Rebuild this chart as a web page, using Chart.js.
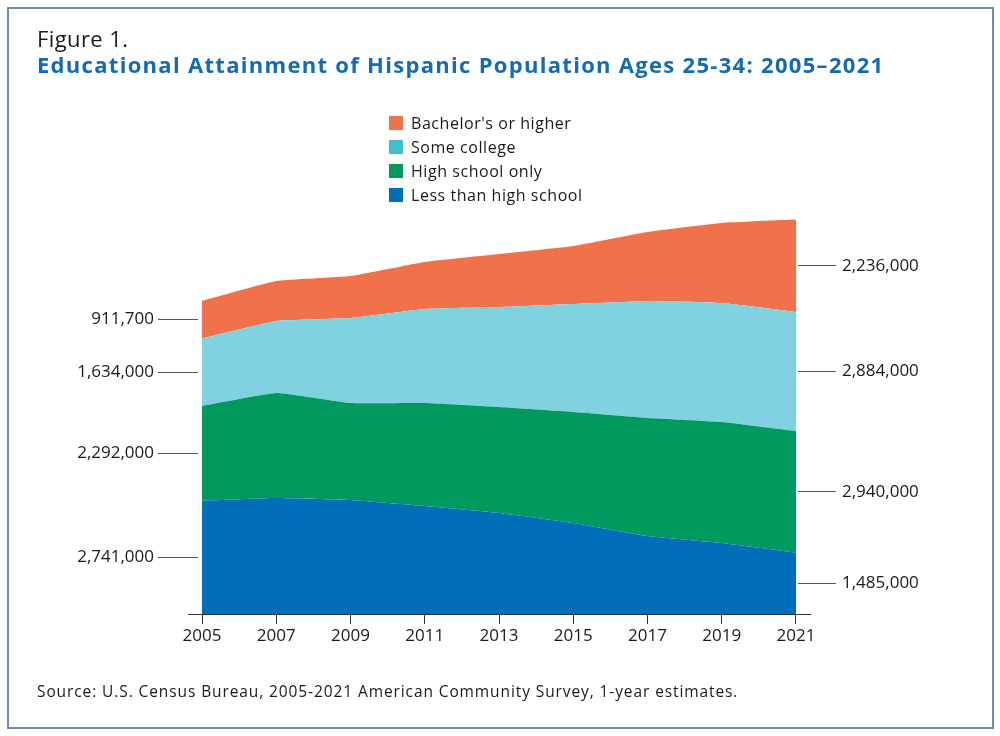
<!DOCTYPE html>
<html>
<head>
<meta charset="UTF-8">
<title>Educational Attainment of Hispanic Population Ages 25-34</title>
<script src="https://cdn.jsdelivr.net/npm/chart.js"></script>
<style>
  html, body { margin: 0; padding: 0; background: #fff; }
  #page { position: relative; width: 1000px; height: 736px; overflow: hidden; font-family: "Open Sans", sans-serif; color: #1a1a1a; }
  #frame { position: absolute; left: 7px; top: 7px; width: 983px; height: 718px; border: 2px solid #6a8cb3; }
  #chart { position: absolute; left: 0; top: 0; }
  .txt { position: absolute; white-space: nowrap; line-height: 1; }
  #fig { left: 37px; top: 27px; font-size: 22px; letter-spacing: 0.4px; }
  #title { left: 37px; top: 53px; font-size: 22px; font-weight: 700; color: #136bb5; letter-spacing: 1.3px; }
  #source { left: 37px; top: 684px; font-size: 15.5px; letter-spacing: 0.9px; }
  #legend { position: absolute; left: 389px; top: 111px; }
  .row { display: flex; align-items: center; height: 24px; font-size: 16px; letter-spacing: 0.55px; }
  .sw { width: 14px; height: 14px; margin-right: 8px; }
</style>
</head>
<body>
<div id="page">
  <div id="frame"></div>
  <canvas id="chart" width="1000" height="736"></canvas>
  <div class="txt" id="fig">Figure 1.</div>
  <div class="txt" id="title">Educational Attainment of Hispanic Population Ages 25-34: 2005–2021</div>
  <div id="legend"></div>
  <div class="txt" id="source">Source: U.S. Census Bureau, 2005-2021 American Community Survey, 1-year estimates.</div>
</div>

<script>
// years shown on the x axis
const years = [2005, 2007, 2009, 2011, 2013, 2015, 2017, 2019, 2021];

// series, bottom to top (first and last values are labelled in the figure)
const lessThanHS = [2741000, 2807000, 2759000, 2614000, 2444000, 2202000, 1888000, 1718000, 1485000];
const highSchool = [2292000, 2541000, 2347000, 2493000, 2565000, 2686000, 2856000, 2928000, 2940000];
const someCollege = [1634000, 1742000, 2057000, 2275000, 2420000, 2614000, 2831000, 2880000, 2884000];
const bachelors = [911700, 968000, 1016000, 1137000, 1283000, 1404000, 1670000, 1936000, 2236000];

const seriesNames = ["Less than high school", "High school only", "Some college", "Bachelor's or higher"];
const seriesValues = [lessThanHS, highSchool, someCollege, bachelors];
const areaColors = ["#006eb9", "#009a5f", "#80d2e0", "#f1724a"];
const swatchColors = ["#006eb9", "#009a5f", "#3dbfd6", "#f1724a"];

// legend (top entry = top band)
const legendEl = document.getElementById("legend");
for (let i = seriesNames.length - 1; i >= 0; i--) {
    legendEl.insertAdjacentHTML("beforeend",
        `<div class="row"><span class="sw" style="background:${swatchColors[i]}"></span>${seriesNames[i]}</div>`);
}

// side labels sit at the middle of each band, first year on the left, last year on the right
function bandMidpoints(idx) {
    let base = 0;
    return seriesValues.map(s => {
        const mid = base + s[idx] / 2;
        base += s[idx];
        return mid;
    });
}
const leftTicks = bandMidpoints(0);
const rightTicks = bandMidpoints(years.length - 1);
const leftLabels = seriesValues.map(s => s[0].toLocaleString("en-US"));
const rightLabels = seriesValues.map(s => s[s.length - 1].toLocaleString("en-US"));

const tickFont = { family: "Open Sans", size: 17 };

// longer x axis line than the plot area, like the original
const axisLine = {
    id: "axisLine",
    afterDraw(chart) {
        const { ctx, chartArea } = chart;
        ctx.save();
        ctx.strokeStyle = "#333";
        ctx.lineWidth = 1.2;
        ctx.beginPath();
        ctx.moveTo(chartArea.left - 10, chartArea.bottom + 0.5);
        ctx.lineTo(chartArea.right + 13, chartArea.bottom + 0.5);
        ctx.stroke();
        ctx.restore();
    }
};

new Chart(document.getElementById("chart"), {
    type: "line",
    data: {
        datasets: seriesValues.map((s, i) => ({
            label: seriesNames[i],
            data: s.map((v, j) => ({ x: years[j], y: v })),
            backgroundColor: areaColors[i],
            borderWidth: 0,
            pointRadius: 0,
            tension: 0.12,
            fill: i === 0 ? "origin" : "-1",
            yAxisID: "y"
        }))
    },
    options: {
        responsive: false,
        animation: false,
        events: [],
        layout: { padding: { left: 0, right: 0, top: 209, bottom: 82 } },
        plugins: { legend: { display: false }, tooltip: { enabled: false } },
        scales: {
            x: {
                type: "linear",
                min: 2004.892,
                max: 2021.054,
                afterBuildTicks: axis => { axis.ticks = years.map(v => ({ value: v })); },
                afterFit: axis => { axis.height = 40; },
                border: { display: false },
                grid: { drawOnChartArea: false, drawTicks: true, tickLength: 10, color: "#333" },
                ticks: { autoSkip: false, maxRotation: 0, padding: 2, color: "#1a1a1a", font: tickFont,
                         callback: v => String(v) }
            },
            y: {
                position: "left",
                stacked: true,
                min: 0,
                max: 9800000,
                afterBuildTicks: axis => { axis.ticks = leftTicks.map(v => ({ value: v })); },
                afterFit: axis => { axis.width = 198; },
                border: { display: false },
                grid: { drawOnChartArea: false, drawTicks: true, tickLength: 40, color: "#555" },
                ticks: { autoSkip: false, padding: 4, color: "#1a1a1a", font: tickFont,
                         callback: (v, i) => leftLabels[i] }
            },
            y2: {
                position: "right",
                min: 0,
                max: 9800000,
                afterBuildTicks: axis => { axis.ticks = rightTicks.map(v => ({ value: v })); },
                afterFit: axis => { axis.width = 202; },
                border: { display: false },
                grid: { drawOnChartArea: false, drawTicks: true, tickLength: 38, color: "#555" },
                ticks: { autoSkip: false, padding: 6, color: "#1a1a1a", font: tickFont,
                         callback: (v, i) => rightLabels[i] }
            }
        }
    },
    plugins: [axisLine]
});
</script>
</body>
</html>
